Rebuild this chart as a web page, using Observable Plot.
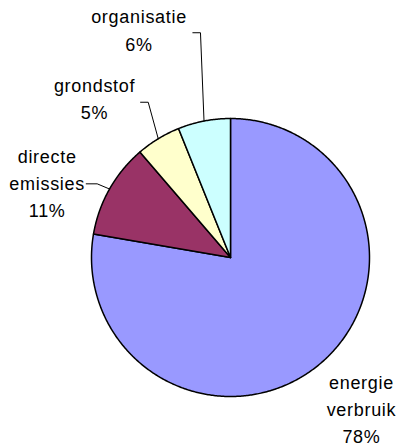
<!DOCTYPE html>
<html>
<head>
<meta charset="utf-8">
<script src="https://cdn.jsdelivr.net/npm/d3@7"></script>
<script src="https://cdn.jsdelivr.net/npm/@observablehq/plot@0.6"></script>
<style>
  html, body { margin: 0; padding: 0; background: #fff; }
</style>
</head>
<body>
<div id="chart"></div>
<script>
// ---- data ----
const categories = ["energie verbruik", "directe emissies", "grondstof", "organisatie"];
const shares = [77.7, 11.0, 5.2, 6.1];
const labelNames = ["energie\nverbruik", "directe\nemissies", "grondstof", "organisatie"];
const percentLabels = ["78%", "11%", "5%", "6%"];
const sliceColors = ["#9999FF", "#993366", "#FFFFCC", "#CCFFFF"];

// ---- layout (in pie-radius units, centre = 0,0) ----
const labelAnchor = [[0.942, -1.338], [-1.319, 0.288], [-0.978, 0.993], [-0.658, 1.489]];
const leaderKnee = [null, [-0.959, 0.530], [-0.592, 1.117], [-0.216, 1.617]];
const leaderEndX = [null, -1.038, -0.647, -0.271];

// ---- geometry from data ----
const total = d3.sum(shares);
let acc = 0;
const slices = categories.map((c, i) => {
  const a0 = acc / total * 2 * Math.PI;
  acc += shares[i];
  const a1 = acc / total * 2 * Math.PI;
  return {cat: c, a0, a1, mid: (a0 + a1) / 2, i};
});
const pt = (a, r = 1) => [r * Math.sin(a), r * Math.cos(a)];

const polyPts = [];
for (const s of slices) {
  polyPts.push({cat: s.cat, x: 0, y: 0});
  const n = Math.max(2, Math.ceil((s.a1 - s.a0) / (Math.PI / 360)));
  for (let k = 0; k <= n; k++) {
    const [x, y] = pt(s.a0 + (s.a1 - s.a0) * k / n);
    polyPts.push({cat: s.cat, x, y});
  }
  polyPts.push({cat: s.cat, x: 0, y: 0});
}

const leaderPts = [];
for (const s of slices) {
  if (!leaderKnee[s.i]) continue;
  const [x0, y0] = pt(s.mid);
  const [kx, ky] = leaderKnee[s.i];
  leaderPts.push({cat: s.cat, x: x0, y: y0});
  leaderPts.push({cat: s.cat, x: kx, y: ky});
  leaderPts.push({cat: s.cat, x: leaderEndX[s.i], y: ky});
}

const labels = slices.map(s => ({
  cat: s.cat,
  x: labelAnchor[s.i][0],
  y: labelAnchor[s.i][1],
  text: labelNames[s.i] + "\n" + percentLabels[s.i]
}));

// scale: centre at pixel (230,257), radius 139 px
const R = 139, CX = 230, CY = 257, W = 400, H = 446;

const chart = Plot.plot({
  width: W,
  height: H,
  margin: 0,
  style: {background: "#fff", fontFamily: "'Liberation Sans', Arial, sans-serif", letterSpacing: "0.7px"},
  x: {domain: [-CX / R, (W - CX) / R], axis: null},
  y: {domain: [-(H - CY) / R, CY / R], axis: null},
  color: {domain: categories, range: sliceColors},
  marks: [
    Plot.line(polyPts, {x: "x", y: "y", z: "cat", fill: "cat", stroke: "#000", strokeWidth: 1.5, strokeLinejoin: "round"}),
    Plot.line(leaderPts, {x: "x", y: "y", z: "cat", stroke: "#000", strokeWidth: 1}),
    Plot.text(labels, {x: "x", y: "y", text: "text", fontSize: 18, lineHeight: 1.52, lineAnchor: "bottom", textAnchor: "middle", fill: "#000"})
  ]
});
document.getElementById("chart").appendChild(chart);
</script>
</body>
</html>
